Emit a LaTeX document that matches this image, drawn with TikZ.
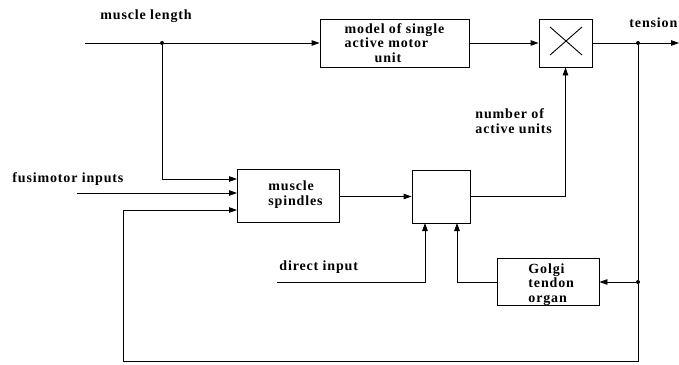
\documentclass[tikz,border=0pt]{standalone}
\usepackage{fontspec}
\newfontfamily\lbl[LetterSpace=6]{Liberation Serif}
\usetikzlibrary{arrows.meta}
\begin{document}
\begin{tikzpicture}[x=1pt,y=-1pt,line width=0.9pt,
  txt/.style={font=\lbl\bfseries\fontsize{14}{14.5}\selectfont},
  lab/.style={txt,inner sep=0pt,align=left},
  blk/.style={draw,txt,line width=0.9pt,inner sep=0pt,align=left},
  arr/.style={-{Triangle[length=8pt,width=5.5pt]}},
  dot/.style={circle,fill,inner sep=0pt,minimum size=4pt}]
\useasboundingbox (0,0) rectangle (679,364);
% blocks
\node[blk,minimum width=149pt,minimum height=48pt] (model) at (394.5,43) {model of single\\active motor\\\hspace*{30pt}unit};
\node[blk,minimum width=53pt,minimum height=48pt] (mult) at (565.5,43) {};
\node[blk,minimum width=102pt,minimum height=53pt] (spindles) at (288,195.5) {};
\node[lab,anchor=base west] (tsp) at (268,205) {muscle\\spindles};
\node[blk,minimum width=58pt,minimum height=53pt] (comp) at (441,196.5) {};
\node[blk,minimum width=102pt,minimum height=47pt] (golgi) at (548,282) {};
\node[lab,anchor=base west] (tgo) at (528,302) {Golgi\\tendon\\organ};
% multiply cross
\coordinate (xa) at (550,27); \coordinate (xb) at (582,55);
\coordinate (xc) at (582,27); \coordinate (xd) at (550,55);
\draw (xa) -- (xb); \draw (xc) -- (xd);
% labels
\node[lab,anchor=base west] (lml) at (100,19) {muscle length};
\node[lab,anchor=base west] (lten) at (629,27) {tension};
\node[lab,anchor=base west] (lfus) at (12,182) {fusimotor inputs};
\node[lab,anchor=base west] (lnum) at (475,133) {number of\\active units};
\node[lab,anchor=base west] (ldir) at (279,270) {direct input};
% coordinates
\coordinate (mlin) at (85,43);
\coordinate (tend) at (679,43);
\node[dot] (j1) at (162,43) {};
\node[dot] (j2) at (638,43) {};
\node[dot] (j3) at (638,282) {};
\coordinate (s1) at (237,179);
\coordinate (s2) at (237,193);
\coordinate (s3) at (237,210);
\coordinate (fin) at (77,193);
\coordinate (bR) at (638,361);
\coordinate (bL) at (123,361);
\coordinate (c1) at (425,223);
\coordinate (c2) at (457,223);
\coordinate (din) at (277,282);
% connectors
\draw (mlin) -- (j1);
\draw[arr] (j1) -- (model.west);
\draw[arr] (model.east) -- (mult.west);
\draw[arr] (mult.east) -- (tend);
\draw[arr] (j1) |- (s1);
\draw[arr] (fin) -- (s2);
\draw (j2) -- (j3);
\draw[arr] (j3) -- (golgi.east);
\draw[arr] (j3) -- (bR) -- (bL) |- (s3);
\draw[arr] (spindles.east |- comp.west) -- (comp.west);
\draw[arr] (comp.east) -| (mult.south);
\draw[arr] (din) -| (c1);
\draw[arr] (golgi.west) -| (c2);
\end{tikzpicture}
\end{document}
